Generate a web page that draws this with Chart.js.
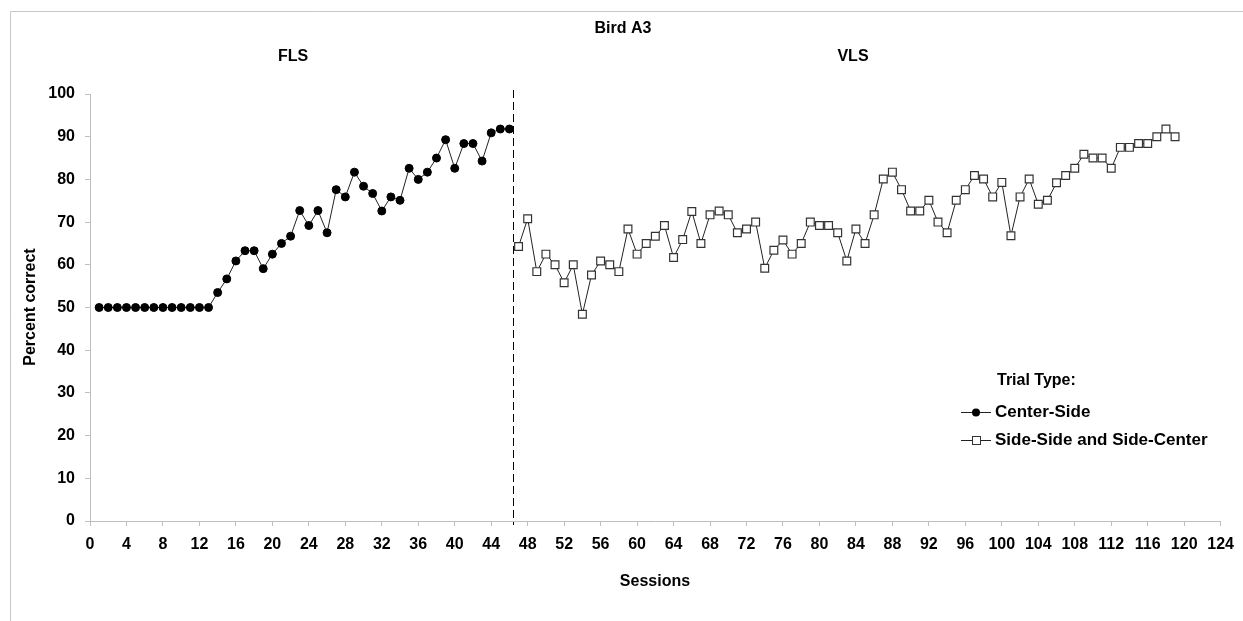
<!DOCTYPE html>
<html lang="en">
<head>
  <meta charset="UTF-8">
  <title>Bird A3</title>
  <script src="https://cdn.jsdelivr.net/npm/chart.js"></script>
  <style>
    body { margin: 0; background: #fff; }
    #chart { display: block; }
  </style>
</head>
<body>
  <canvas id="chart" width="1243" height="621"></canvas>

  <script>
    // Center-Side trials (FLS phase), starting at session 1
    const centerSideFirst = 1;
    const centerSide = [
      50, 50, 50, 50, 50, 50, 50, 50, 50, 50, 50, 50, 50,
      53.5, 56.7, 60.9, 63.3, 63.3, 59.1, 62.5, 65.0, 66.7, 72.7,
      69.2, 72.7, 67.5, 77.6, 75.9, 81.7, 78.4, 76.7, 72.6, 75.9,
      75.1, 82.6, 80.0, 81.7, 85.0, 89.3, 82.6, 88.4, 88.4, 84.3,
      90.9, 91.8, 91.8
    ];

    // Side-Side and Side-Center trials (VLS phase), starting at session 47
    const sideSideFirst = 47;
    const sideSide = [
      64.3, 70.8, 58.4, 62.5, 60.0, 55.8, 60.0, 48.4, 57.6, 60.9,
      60.0, 58.4, 68.4, 62.5, 65.0, 66.7, 69.2, 61.7, 65.9, 72.5,
      65.0, 71.7, 72.6, 71.7, 67.5, 68.4, 70.0, 59.2, 63.4, 65.8,
      62.5, 65.0, 70.0, 69.2, 69.2, 67.5, 60.9, 68.4, 65.0, 71.7,
      80.1, 81.7, 77.6, 72.6, 72.6, 75.1, 70.0, 67.5, 75.1, 77.6,
      80.9, 80.1, 75.9, 79.3, 66.8, 75.9, 80.1, 74.2, 75.1, 79.2,
      80.9, 82.6, 85.9, 85.0, 85.0, 82.6, 87.5, 87.5, 88.4, 88.4,
      90.0, 91.8, 90.0
    ];

    const phaseBoundary = 46.4;   // dashed line between FLS and VLS
    const xRange = [0, 124];
    const xStep = 4;
    const yRange = [0, 100];
    const yStep = 10;

    const FONT = "'Liberation Sans', Arial, sans-serif";

    const toPoints = (first, vals) => vals.map((v, i) => ({ x: first + i, y: v }));

    // Extra text, phase divider, frame and legend
    const decorations = {
      id: 'decorations',
      afterDraw(chart) {
        const c = chart.ctx;
        const area = chart.chartArea;
        const xs = chart.scales.x;
        c.save();

        // light frame
        c.strokeStyle = '#c8c8c8';
        c.lineWidth = 1;
        c.beginPath();
        c.moveTo(10.5, chart.height);
        c.lineTo(10.5, 11.5);
        c.lineTo(chart.width, 11.5);
        c.stroke();

        // phase divider
        const bx = Math.round(xs.getPixelForValue(phaseBoundary)) + 0.5;
        c.strokeStyle = '#000';
        c.setLineDash([8, 4]);
        c.beginPath();
        c.moveTo(bx, area.top - 4);
        c.lineTo(bx, area.bottom + 4);
        c.stroke();
        c.setLineDash([]);

        c.fillStyle = '#000';
        c.font = 'bold 16px ' + FONT;
        c.textAlign = 'center';
        c.textBaseline = 'middle';
        c.fillText('Bird A3', 623, 29);
        c.fillText('FLS', 293, 57);
        c.fillText('VLS', 853, 57);
        c.fillText('Sessions', 655, 582);

        c.save();
        c.translate(31, 307);
        c.rotate(-Math.PI / 2);
        c.fillText('Percent correct', 0, 0);
        c.restore();

        // legend
        c.textAlign = 'left';
        c.fillText('Trial Type:', 997, 381);
        c.font = 'bold 17px ' + FONT;
        c.fillText('Center-Side', 995, 412);
        c.fillText('Side-Side and Side-Center', 995, 440);

        c.strokeStyle = '#222';
        c.lineWidth = 1;
        [412, 440].forEach(y => {
          c.beginPath();
          c.moveTo(961, y + 0.5);
          c.lineTo(991, y + 0.5);
          c.stroke();
        });
        c.fillStyle = '#000';
        c.beginPath();
        c.arc(976, 412.5, 4, 0, Math.PI * 2);
        c.fill();
        c.fillStyle = '#fff';
        c.strokeStyle = '#333';
        c.fillRect(972, 436, 8, 8);
        c.strokeRect(972.5, 436.5, 8, 8);

        c.restore();
      }
    };

    new Chart(document.getElementById('chart'), {
      type: 'scatter',
      data: {
        datasets: [
          {
            label: 'Center-Side',
            data: toPoints(centerSideFirst, centerSide),
            showLine: true,
            borderColor: '#222',
            borderWidth: 1,
            pointStyle: 'circle',
            pointRadius: 4,
            pointBackgroundColor: '#000',
            pointBorderColor: '#000',
            pointBorderWidth: 1
          },
          {
            label: 'Side-Side and Side-Center',
            data: toPoints(sideSideFirst, sideSide),
            showLine: true,
            borderColor: '#222',
            borderWidth: 1,
            pointStyle: 'rect',
            pointRadius: 5.5,
            pointBackgroundColor: '#fff',
            pointBorderColor: '#333',
            pointBorderWidth: 1.2
          }
        ]
      },
      options: {
        responsive: false,
        animation: false,
        layout: { padding: { left: 0, top: 94, right: 20, bottom: 0 } },
        plugins: {
          legend: { display: false },
          tooltip: { enabled: false }
        },
        scales: {
          x: {
            type: 'linear',
            min: xRange[0],
            max: xRange[1],
            afterFit: s => { s.height = 100; },
            ticks: {
              stepSize: xStep,
              padding: 9,
              color: '#000',
              maxRotation: 0,
              autoSkip: false,
              font: { family: FONT, size: 16, weight: 'bold' }
            },
            grid: { drawOnChartArea: false, tickLength: 5, color: '#bfbfbf' },
            border: { color: '#bfbfbf' }
          },
          y: {
            min: yRange[0],
            max: yRange[1],
            afterFit: s => { s.width = 90; },
            ticks: {
              stepSize: yStep,
              padding: 10,
              color: '#000',
              font: { family: FONT, size: 16, weight: 'bold' }
            },
            grid: { drawOnChartArea: false, tickLength: 5, color: '#bfbfbf' },
            border: { color: '#bfbfbf' }
          }
        }
      },
      plugins: [decorations]
    });
  </script>
</body>
</html>
